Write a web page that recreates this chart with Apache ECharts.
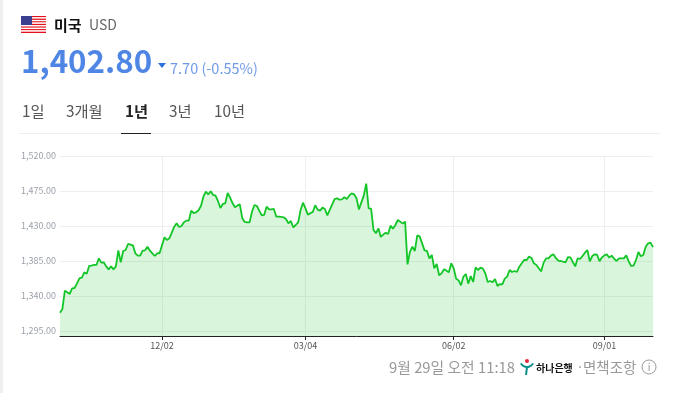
<!DOCTYPE html>
<html><head><meta charset="utf-8">
<style>html,body{margin:0;padding:0;background:#fff}#c{width:674px;height:393px}</style>
<script src="https://cdn.jsdelivr.net/npm/echarts@6/dist/echarts.min.js"></script>
</head><body><div id="c"></div>
<script>
const rates = [
1318.6,1323.3,1346.9,1344.7,1342.6,1349.9,1350.3,1356.3,1362.7,1363.6,
1370.4,1368.7,1378.6,1379,1379.9,1379.9,1388.4,1382.9,1383.3,1378.1,
1374.3,1378.1,1374.3,1378.1,1398.7,1383.3,1397.9,1399.1,1406.9,1406,
1405.1,1394.9,1391.9,1391.9,1398.3,1398.7,1403.4,1398.3,1394.9,1391.4,
1394.9,1395.3,1405.6,1415.4,1412,1414.1,1421.4,1429.1,1433.4,1428.7,
1430,1434.7,1436.9,1436.9,1449.7,1446.7,1447.6,1450.2,1455.7,1467.7,
1474.1,1470.7,1474.6,1469.9,1469,1462.1,1453.1,1458.3,1459.2,1472.4,
1466.4,1459.2,1454,1456.2,1457.9,1439.9,1435.2,1434.7,1434.7,1448.4,
1457,1455.7,1449.7,1443.7,1444.2,1454.9,1451.4,1451.4,1451.9,1442,
1442,1441.6,1441.2,1439,1433.4,1436.4,1428.3,1431.3,1434.7,1450.6,
1460,1452.7,1444.6,1446.3,1448,1456.6,1451,1449.7,1453.6,1451.9,
1443.7,1450.6,1457.9,1464.7,1465.6,1463.9,1464.3,1466.9,1464.7,1469,
1472,1470.7,1465.6,1451.4,1460.4,1469,1484.4,1452.7,1452.3,1424.9,
1420.6,1427,1415.9,1418.9,1421.4,1419.7,1430.4,1426.6,1431.3,1437.7,
1435.6,1433,1435.6,1380.7,1397,1403.4,1397.9,1418,1416.7,1407.7,
1398.7,1397.9,1388.4,1392.7,1375.6,1381.1,1366.6,1369.1,1374.3,1372.6,
1370.4,1382,1375.6,1362.3,1360.1,1353.7,1364.9,1368.3,1355.9,1365.7,
1358,1376.9,1373.4,1376.4,1375.1,1369.1,1358,1359.3,1357.6,1361.9,
1352.9,1355.4,1355,1362.3,1364.9,1373.4,1370.9,1372.1,1370.9,1377.7,
1382,1386.3,1386.3,1390.6,1388.9,1382,1379.9,1375.6,1371.7,1382.9,
1388.4,1388.4,1391.9,1393.6,1388.9,1385.4,1385,1384.1,1383.3,1390.1,
1389.7,1383.7,1378.1,1388.4,1387.6,1391.4,1395.7,1399.1,1384.6,1391.4,
1393.6,1393.1,1384.6,1389.7,1392.3,1393.6,1389.3,1391.9,1388,1385,
1388.4,1388.4,1388.4,1392.3,1384.6,1378.6,1379,1386.3,1396.6,1391,
1392.7,1403.4,1407.7,1408.6,1402.8];
const tickIndexes = [42,101,162,224];
const tickLabels = ['12/02','03/04','06/02','09/01'];
const yTicks = [1295,1340,1385,1430,1475,1520];
const tabs = ['1일','3개월','1년','3년','10년'];
const tabX = [22,66,125,169,214];
const categories = rates.map((_, i) => {
  const k = tickIndexes.indexOf(i);
  return k >= 0 ? tickLabels[k] : String(i);
});
const F = '"Noto Sans CJK KR","Noto Sans",sans-serif';
const isTick = i => tickIndexes.includes(i);
const txt = (x, y, text, font, fill, extra) => ({
  type: 'text', x, y,
  style: Object.assign({text, font: font + ' ' + F, fill, textVerticalAlign: 'middle'}, extra || {})
});
const rect = (x, y, w, h, fill) => ({type: 'rect', shape: {x, y, width: w, height: h}, style: {fill}, silent: true});

const stripes = [];
for (let i = 0; i < 13; i++) stripes.push(rect(21, 16 + i * 17 / 13, 25, 17 / 13, i % 2 ? '#ffffff' : '#e3101c'));

const graphics = [
  rect(0, 0, 3, 393, '#efefef'),
  ...stripes,
  rect(21, 16, 11, 9, '#3a3f8f'),
  txt(54, 25, '미국', 'bold 15px', '#111'),
  txt(89, 25, 'USD', '14px', '#666'),
  txt(21, 61, '1,402.80', 'bold 31.3px', '#4f86e6'),
  {type: 'polygon', shape: {points: [[158, 63], [166, 63], [162, 68]]}, style: {fill: '#2f6fe0'}},
  txt(170, 68, '7.70 (-0.55%)', '14.5px', '#6f9be8'),
  ...tabs.map((t, i) => txt(tabX[i], 111, t, (i === 2 ? 'bold ' : '') + '15.3px', i === 2 ? '#222' : '#555')),
  rect(19, 133, 641, 1, '#eeeeee'),
  rect(121, 133, 30, 1, '#222222'),
  txt(389, 367, '9월 29일 오전 11:18', '14.8px', '#999'),
  {type: 'circle', shape: {cx: 527, cy: 361, r: 2}, style: {fill: '#e0283c'}},
  {type: 'arc', shape: {cx: 527, cy: 360, r: 7, startAngle: 0.5, endAngle: 2.64}, style: {stroke: '#0b8f8a', lineWidth: 2, fill: 'none'}},
  {type: 'polyline', shape: {points: [[527, 367], [526, 375]]}, style: {stroke: '#0b8f8a', lineWidth: 2, fill: 'none'}},
  txt(536, 368, '하나은행', 'bold 10px', '#111'),
  txt(576, 367, '·', '14px', '#aaa'),
  txt(583, 367, '면책조항', '14.5px', '#999'),
  {type: 'circle', shape: {cx: 649, cy: 367, r: 7}, style: {fill: 'none', stroke: '#999', lineWidth: 1}},
  txt(649, 367, 'i', '10px', '#999', {textAlign: 'center'})
];

const chart = echarts.init(document.getElementById('c'), null, {renderer: 'canvas'});
chart.setOption({
  animation: false,
  backgroundColor: '#fff',
  grid: {left: 60, right: 21, top: 156, bottom: 57},
  xAxis: {
    type: 'category', data: categories, boundaryGap: false,
    axisLine: {lineStyle: {color: '#222', width: 1}},
    axisTick: {interval: isTick, length: 4, lineStyle: {color: '#222'}},
    axisLabel: {interval: isTick, color: '#555', fontSize: 9, fontFamily: F, margin: 5},
    splitLine: {show: true, interval: isTick, lineStyle: {color: '#eeeeee'}}
  },
  yAxis: {
    type: 'value', min: 1288.57, max: 1520,
    axisLine: {show: false}, axisTick: {show: false, customValues: yTicks},
    axisLabel: {
      customValues: yTicks, color: '#9a9fa8', fontSize: 9, fontFamily: F, margin: 4,
      formatter: v => v.toLocaleString('en-US', {minimumFractionDigits: 2, maximumFractionDigits: 2})
    },
    splitLine: {show: true, lineStyle: {color: '#eeeeee'}}
  },
  series: [{
    type: 'line', data: rates, symbol: 'none', smooth: false,
    lineStyle: {color: '#14c528', width: 1.8},
    areaStyle: {color: 'rgba(30,200,45,0.17)', opacity: 1}
  }],
  graphic: graphics
});
</script></body></html>
